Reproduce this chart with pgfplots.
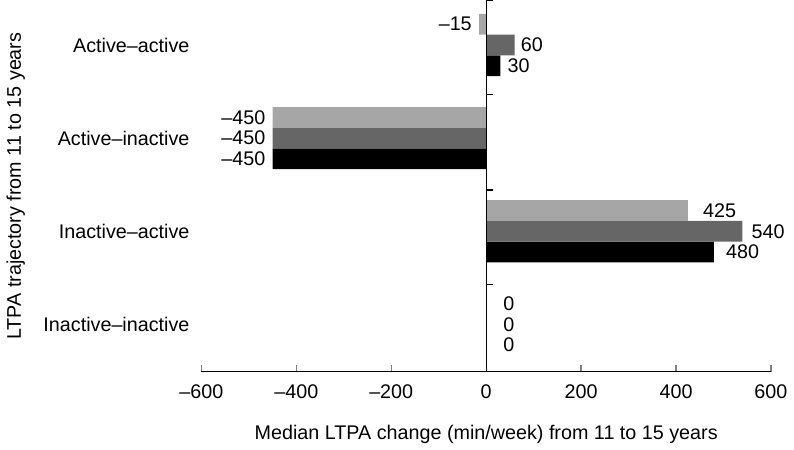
\documentclass[border=0pt]{standalone}
\usepackage{fontspec}
\setmainfont{Liberation Sans}
\usepackage{pgfplots}
\usepackage{pgfplotstable}
\pgfplotsset{compat=1.18}
\definecolor{lightbar}{RGB}{166,166,166}
\definecolor{darkbar}{RGB}{102,102,102}
\newcommand{\txt}{\fontsize{10}{12}\selectfont}

% y: 3 = Active-active ... 0 = Inactive-inactive; dx = label gap (negative: label left of bar end)
\pgfplotstableread{
y x lab dx
3 30 30 3.5
2 -450 --450 -3.5
1 480 480 6
0 0 0 8.5
}\tblack
\pgfplotstableread{
y x lab dx
3 60 60 3
2 -450 --450 -3.5
1 540 540 4.5
0 0 0 8.5
}\tdark
\pgfplotstableread{
y x lab dx
3 -15 --15 -3.5
2 -450 --450 -3.5
1 425 425 7.5
0 0 0 8.5
}\tlight

\begin{document}
\begin{tikzpicture}
\begin{axis}[
  scale only axis, width=288.5pt, height=188pt,
  xbar=0pt, bar width=10.5pt,
  xmin=-600, xmax=600, ymin=-0.509, ymax=3.477,
  clip=false,
  axis x line*=bottom, axis y line*=left,
  y axis line style={draw=none},
  axis line style={line width=0.6pt},
  xtick={-600,-400,...,600},
  xticklabels={--600,--400,--200,0,200,400,600},
  ytick={0,1,2,3},
  yticklabels={Inactive--inactive,Inactive--active,Active--inactive,Active--active},
  ytick style={draw=none},
  xtick style={line width=0.6pt},
  xtick align=inside, major tick length=3.5pt,
  tick label style={font=\txt},
  xticklabel style={yshift=-3pt},
  yticklabel style={xshift=1pt},
  xlabel={Median LTPA change (min/week) from 11 to 15 years},
  ylabel={LTPA trajectory from 11 to 15 years},
  label style={font=\txt},
  xlabel style={at={(axis description cs:0.5,0)}, anchor=center, yshift=-31.5pt},
  ylabel style={at={(axis description cs:0,0.5)}, anchor=center, yshift=94pt},
  nodes near coords, point meta=explicit symbolic,
  visualization depends on={\thisrow{dx} \as \mydx},
  every node near coord/.append style={font=\txt, black, inner xsep=0pt,
    /utils/exec={\ifdim\mydx pt<0pt \def\myanc{east}\else\def\myanc{west}\fi},
    anchor=\myanc, xshift=\mydx pt},
]
\addplot[draw=none, fill=black] table[x=x, y=y, meta=lab] {\tblack};
\addplot[draw=none, fill=darkbar] table[x=x, y=y, meta=lab] {\tdark};
\addplot[draw=none, fill=lightbar] table[x=x, y=y, meta=lab] {\tlight};
\draw[line width=0.6pt] (axis cs:0,-0.509) -- (axis cs:0,3.477);
\pgfplotsinvokeforeach{3.477,2.47,1.442,0.424}{
  \draw[line width=0.6pt] (axis cs:0,#1) -- ++(3.5pt,0pt);
}
\end{axis}
\end{tikzpicture}
\end{document}
